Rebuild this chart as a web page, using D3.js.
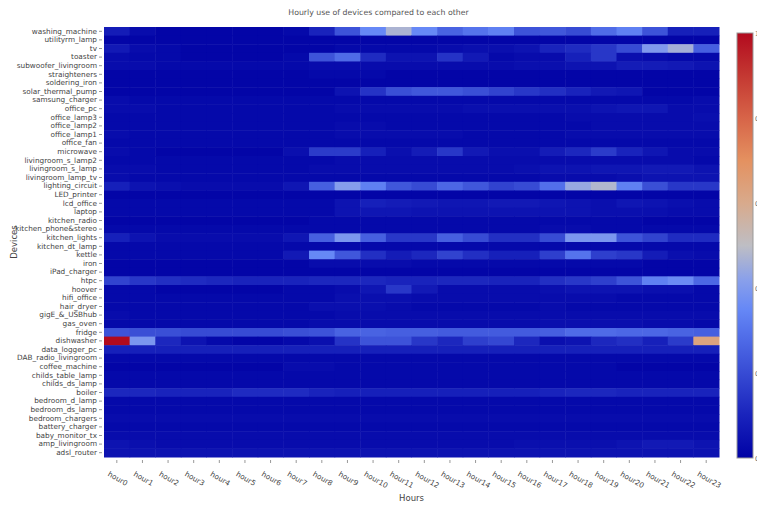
<!DOCTYPE html>
<html>
<head>
<meta charset="utf-8">
<script src="https://cdn.jsdelivr.net/npm/d3@7"></script>
<style>
  body { margin: 0; background: #fff; }
  svg { display: block; font-family: "DejaVu Sans", Verdana, sans-serif; }
</style>
</head>
<body>
<div id="chart"></div>
<script>
const hours = d3.range(24).map(h => "hour" + h);

// top-to-bottom as drawn
const devices = [
  "washing_machine", "utilityrm_lamp", "tv", "toaster", "subwoofer_livingroom", "straighteners",
  "soldering_iron", "solar_thermal_pump", "samsung_charger", "office_pc", "office_lamp3", "office_lamp2",
  "office_lamp1", "office_fan", "microwave", "livingroom_s_lamp2", "livingroom_s_lamp", "livingroom_lamp_tv",
  "lighting_circuit", "LED_printer", "lcd_office", "laptop", "kitchen_radio", "kitchen_phone&stereo",
  "kitchen_lights", "kitchen_dt_lamp", "kettle", "iron", "iPad_charger", "htpc", "hoover", "hifi_office",
  "hair_dryer", "gigE_&_USBhub", "gas_oven", "fridge", "dishwasher", "data_logger_pc", "DAB_radio_livingroom",
  "coffee_machine", "childs_table_lamp", "childs_ds_lamp", "boiler", "bedroom_d_lamp", "bedroom_ds_lamp",
  "bedroom_chargers", "battery_charger", "baby_monitor_tx", "amp_livingroom", "adsl_router"
];

// one row per device, same order, hour0..hour23
const usage = [
  [0.08,0.03,0.01,0.01,0.01,0.01,0.01,0.02,0.10,0.22,0.35,0.47,0.35,0.26,0.30,0.33,0.22,0.23,0.20,0.28,0.33,0.22,0.09,0.09],
  [0.01,0.01,0.01,0.01,0.01,0.01,0.01,0.01,0.01,0.01,0.01,0.01,0.01,0.01,0.01,0.01,0.01,0.01,0.01,0.01,0.01,0.01,0.01,0.01],
  [0.07,0.03,0.02,0.01,0.01,0.01,0.01,0.01,0.01,0.02,0.02,0.02,0.02,0.03,0.04,0.04,0.05,0.10,0.12,0.15,0.20,0.40,0.46,0.25],
  [0.03,0.02,0.02,0.01,0.01,0.01,0.01,0.02,0.22,0.28,0.12,0.05,0.05,0.14,0.07,0.02,0.03,0.03,0.09,0.15,0.04,0.03,0.02,0.02],
  [0.03,0.03,0.02,0.02,0.02,0.02,0.02,0.02,0.03,0.03,0.03,0.03,0.03,0.03,0.03,0.03,0.04,0.04,0.05,0.05,0.08,0.08,0.07,0.05],
  [0.01,0.01,0.01,0.01,0.01,0.01,0.01,0.01,0.02,0.02,0.02,0.01,0.01,0.01,0.01,0.01,0.01,0.01,0.01,0.01,0.01,0.01,0.01,0.01],
  [0.01,0.01,0.01,0.01,0.01,0.01,0.01,0.01,0.01,0.01,0.01,0.01,0.01,0.01,0.01,0.01,0.01,0.01,0.01,0.01,0.01,0.01,0.01,0.01],
  [0.01,0.01,0.01,0.01,0.01,0.01,0.01,0.01,0.01,0.05,0.14,0.21,0.23,0.23,0.21,0.18,0.15,0.13,0.10,0.07,0.06,0.01,0.01,0.01],
  [0.03,0.02,0.02,0.02,0.02,0.02,0.02,0.02,0.02,0.02,0.02,0.02,0.02,0.02,0.02,0.02,0.02,0.02,0.02,0.02,0.02,0.02,0.02,0.03],
  [0.03,0.03,0.02,0.02,0.02,0.02,0.02,0.02,0.02,0.03,0.03,0.03,0.03,0.03,0.04,0.04,0.04,0.04,0.04,0.05,0.06,0.06,0.03,0.03],
  [0.02,0.02,0.02,0.02,0.02,0.02,0.02,0.02,0.02,0.02,0.02,0.02,0.02,0.02,0.02,0.02,0.02,0.02,0.03,0.03,0.03,0.03,0.03,0.04],
  [0.02,0.02,0.02,0.02,0.02,0.02,0.02,0.02,0.02,0.03,0.03,0.02,0.02,0.02,0.02,0.02,0.02,0.02,0.02,0.03,0.03,0.03,0.03,0.03],
  [0.03,0.02,0.02,0.02,0.02,0.02,0.02,0.02,0.02,0.03,0.03,0.03,0.03,0.03,0.02,0.02,0.02,0.02,0.03,0.03,0.03,0.03,0.03,0.03],
  [0.02,0.02,0.02,0.02,0.02,0.02,0.02,0.02,0.02,0.02,0.02,0.02,0.02,0.02,0.02,0.02,0.02,0.02,0.02,0.02,0.02,0.02,0.02,0.02],
  [0.03,0.02,0.01,0.01,0.01,0.01,0.01,0.04,0.16,0.16,0.09,0.04,0.08,0.15,0.07,0.04,0.04,0.08,0.11,0.16,0.10,0.06,0.03,0.03],
  [0.02,0.02,0.02,0.02,0.02,0.02,0.02,0.02,0.02,0.03,0.03,0.03,0.03,0.03,0.03,0.03,0.03,0.03,0.03,0.03,0.03,0.03,0.03,0.02],
  [0.03,0.03,0.02,0.02,0.02,0.02,0.02,0.02,0.03,0.03,0.03,0.03,0.03,0.03,0.03,0.03,0.04,0.05,0.05,0.06,0.06,0.07,0.07,0.05],
  [0.03,0.02,0.02,0.02,0.02,0.02,0.02,0.02,0.02,0.02,0.02,0.02,0.02,0.02,0.02,0.02,0.02,0.03,0.03,0.03,0.04,0.05,0.05,0.05],
  [0.09,0.05,0.04,0.03,0.03,0.03,0.03,0.06,0.25,0.41,0.33,0.23,0.20,0.27,0.23,0.18,0.20,0.29,0.44,0.48,0.33,0.21,0.15,0.15],
  [0.01,0.01,0.01,0.01,0.01,0.01,0.01,0.01,0.01,0.01,0.01,0.01,0.01,0.01,0.01,0.01,0.01,0.01,0.01,0.01,0.01,0.01,0.01,0.01],
  [0.02,0.02,0.02,0.02,0.02,0.02,0.02,0.02,0.02,0.05,0.09,0.08,0.07,0.06,0.06,0.07,0.07,0.06,0.05,0.04,0.06,0.05,0.04,0.03],
  [0.02,0.02,0.02,0.02,0.02,0.02,0.02,0.02,0.02,0.05,0.06,0.06,0.05,0.05,0.05,0.05,0.05,0.05,0.05,0.04,0.04,0.04,0.03,0.03],
  [0.01,0.01,0.01,0.01,0.01,0.01,0.01,0.01,0.02,0.02,0.02,0.02,0.02,0.02,0.02,0.02,0.02,0.02,0.02,0.02,0.02,0.01,0.01,0.01],
  [0.02,0.02,0.02,0.02,0.02,0.02,0.02,0.02,0.02,0.02,0.02,0.02,0.02,0.02,0.02,0.02,0.02,0.03,0.03,0.02,0.02,0.02,0.02,0.02],
  [0.09,0.05,0.03,0.03,0.03,0.03,0.03,0.06,0.25,0.39,0.25,0.15,0.15,0.25,0.20,0.13,0.13,0.20,0.39,0.39,0.22,0.18,0.12,0.12],
  [0.02,0.02,0.02,0.02,0.02,0.02,0.02,0.02,0.02,0.02,0.02,0.02,0.02,0.02,0.02,0.02,0.02,0.02,0.02,0.02,0.02,0.02,0.02,0.02],
  [0.02,0.02,0.02,0.02,0.02,0.02,0.02,0.07,0.35,0.23,0.13,0.08,0.11,0.18,0.13,0.09,0.09,0.17,0.30,0.17,0.15,0.08,0.04,0.03],
  [0.01,0.01,0.01,0.01,0.01,0.01,0.01,0.01,0.03,0.03,0.03,0.03,0.02,0.02,0.02,0.02,0.02,0.02,0.02,0.02,0.02,0.01,0.01,0.01],
  [0.01,0.01,0.01,0.01,0.01,0.01,0.01,0.01,0.01,0.01,0.01,0.01,0.01,0.01,0.01,0.01,0.01,0.01,0.01,0.01,0.01,0.01,0.01,0.01],
  [0.18,0.15,0.13,0.12,0.11,0.10,0.10,0.10,0.11,0.11,0.11,0.10,0.10,0.11,0.11,0.10,0.10,0.13,0.15,0.17,0.22,0.33,0.36,0.27],
  [0.02,0.02,0.01,0.01,0.01,0.01,0.01,0.02,0.02,0.03,0.06,0.15,0.07,0.03,0.03,0.03,0.03,0.04,0.05,0.05,0.05,0.04,0.04,0.02],
  [0.02,0.02,0.02,0.02,0.02,0.02,0.02,0.02,0.02,0.04,0.04,0.04,0.03,0.03,0.03,0.03,0.03,0.03,0.03,0.03,0.02,0.02,0.02,0.02],
  [0.02,0.02,0.02,0.02,0.02,0.02,0.02,0.02,0.04,0.04,0.04,0.03,0.02,0.02,0.02,0.02,0.02,0.03,0.02,0.02,0.02,0.02,0.02,0.02],
  [0.03,0.02,0.02,0.02,0.02,0.02,0.02,0.02,0.02,0.03,0.03,0.03,0.03,0.03,0.03,0.03,0.03,0.03,0.03,0.03,0.03,0.03,0.03,0.03],
  [0.02,0.02,0.02,0.02,0.02,0.02,0.02,0.02,0.03,0.03,0.03,0.03,0.03,0.03,0.03,0.03,0.03,0.04,0.04,0.04,0.04,0.03,0.03,0.02],
  [0.22,0.21,0.21,0.20,0.20,0.20,0.20,0.21,0.22,0.26,0.26,0.25,0.25,0.24,0.24,0.24,0.24,0.25,0.28,0.28,0.27,0.27,0.26,0.25],
  [1.00,0.39,0.11,0.05,0.02,0.01,0.01,0.02,0.04,0.14,0.22,0.22,0.15,0.11,0.17,0.19,0.11,0.04,0.05,0.11,0.13,0.09,0.16,0.63],
  [0.09,0.09,0.09,0.09,0.09,0.09,0.09,0.09,0.09,0.09,0.09,0.09,0.09,0.09,0.09,0.09,0.09,0.09,0.09,0.09,0.09,0.09,0.09,0.09],
  [0.02,0.02,0.02,0.02,0.02,0.02,0.02,0.02,0.02,0.02,0.02,0.02,0.02,0.02,0.02,0.02,0.02,0.02,0.02,0.02,0.02,0.02,0.02,0.02],
  [0.01,0.01,0.01,0.01,0.01,0.01,0.01,0.03,0.03,0.02,0.02,0.02,0.02,0.02,0.02,0.02,0.02,0.02,0.02,0.02,0.01,0.01,0.01,0.01],
  [0.02,0.02,0.02,0.02,0.02,0.02,0.02,0.02,0.02,0.02,0.02,0.02,0.02,0.02,0.02,0.02,0.02,0.02,0.02,0.02,0.02,0.02,0.02,0.02],
  [0.02,0.02,0.02,0.02,0.02,0.02,0.02,0.02,0.02,0.02,0.02,0.02,0.02,0.02,0.02,0.02,0.02,0.02,0.02,0.02,0.02,0.02,0.02,0.02],
  [0.11,0.11,0.10,0.10,0.10,0.12,0.12,0.12,0.10,0.09,0.09,0.09,0.09,0.09,0.09,0.09,0.09,0.10,0.11,0.11,0.10,0.10,0.10,0.10],
  [0.02,0.02,0.02,0.02,0.02,0.02,0.02,0.02,0.02,0.02,0.02,0.02,0.02,0.02,0.02,0.02,0.02,0.02,0.02,0.02,0.02,0.02,0.02,0.02],
  [0.02,0.02,0.02,0.02,0.02,0.02,0.02,0.02,0.02,0.02,0.02,0.02,0.02,0.02,0.02,0.02,0.02,0.02,0.02,0.02,0.02,0.02,0.02,0.02],
  [0.03,0.03,0.03,0.03,0.03,0.03,0.03,0.03,0.03,0.03,0.03,0.03,0.03,0.03,0.03,0.03,0.03,0.03,0.03,0.03,0.03,0.03,0.03,0.03],
  [0.02,0.02,0.02,0.02,0.02,0.02,0.02,0.02,0.02,0.02,0.02,0.02,0.02,0.02,0.02,0.02,0.02,0.02,0.02,0.02,0.02,0.02,0.02,0.02],
  [0.03,0.03,0.03,0.03,0.03,0.03,0.03,0.03,0.03,0.03,0.03,0.03,0.03,0.03,0.03,0.03,0.03,0.03,0.03,0.03,0.03,0.03,0.03,0.03],
  [0.05,0.04,0.03,0.03,0.03,0.03,0.03,0.03,0.03,0.03,0.03,0.03,0.03,0.03,0.03,0.03,0.04,0.04,0.04,0.04,0.05,0.07,0.07,0.05],
  [0.05,0.05,0.05,0.05,0.05,0.05,0.05,0.05,0.05,0.05,0.05,0.05,0.05,0.05,0.05,0.05,0.05,0.05,0.05,0.05,0.05,0.05,0.05,0.05]
];

const colorStops = [0, 0.1, 0.2, 0.3, 0.35, 0.42, 0.5, 0.6, 0.7, 0.8, 0.9, 1];
const colorValues = [
  "rgb(0,2,165)", "rgb(25,35,188)", "rgb(55,75,212)", "rgb(85,115,236)", "rgb(102,136,246)",
  "rgb(138,160,234)", "rgb(190,190,196)", "rgb(216,170,140)", "rgb(228,145,96)", "rgb(215,100,72)",
  "rgb(196,56,50)", "rgb(178,10,30)"
];
const colorTicks = [0, 0.2, 0.4, 0.6, 0.8, 1];

const W = 757, H = 506;
const plot = { left: 104, right: 719, top: 27, bottom: 457 };

const svg = d3.select("#chart").append("svg")
    .attr("width", W).attr("height", H);

const x = d3.scaleBand().domain(hours).range([plot.left, plot.right]);
const y = d3.scaleBand().domain(devices).range([plot.top, plot.bottom]);
const color = d3.scaleLinear().domain(colorStops).range(colorValues)
    .interpolate(d3.interpolateRgb).clamp(true);

// cells
const cells = [];
usage.forEach((row, i) => row.forEach((v, j) => cells.push({ dev: devices[i], hour: hours[j], v })));

svg.append("g").selectAll("rect").data(cells).join("rect")
    .attr("x", d => x(d.hour))
    .attr("y", d => y(d.dev))
    .attr("width", x.bandwidth() + 0.5)
    .attr("height", y.bandwidth() + 0.5)
    .attr("fill", d => color(d.v));

// y axis
const yAxis = svg.append("g")
    .attr("transform", `translate(${plot.left - 2},0)`)
    .call(d3.axisLeft(y).tickSize(3).tickPadding(2));
yAxis.select(".domain").remove();
yAxis.selectAll(".tick line").attr("stroke", "#999");
yAxis.selectAll(".tick text").attr("fill", "#444")
    .style("font-size", "7.3px").style("font-family", "'DejaVu Sans', sans-serif");

// x axis
const xAxis = svg.append("g")
    .attr("transform", `translate(0,${plot.bottom + 3})`)
    .call(d3.axisBottom(x).tickSize(3).tickPadding(5));
xAxis.select(".domain").remove();
xAxis.selectAll(".tick line").attr("stroke", "#999");
xAxis.selectAll(".tick text")
    .attr("fill", "#444")
    .style("font-size", "7.3px").style("font-family", "'DejaVu Sans', sans-serif")
    .attr("text-anchor", "start")
    .attr("dy", "0.4em")
    .attr("transform", "translate(-4,6) rotate(30)");

// titles
svg.append("text").attr("x", W / 2).attr("y", 15).attr("text-anchor", "middle")
    .attr("fill", "#555").style("font-size", "7.8px")
    .text("Hourly use of devices compared to each other");

svg.append("text").attr("x", (plot.left + plot.right) / 2).attr("y", 501).attr("text-anchor", "middle")
    .attr("fill", "#444").style("font-size", "8.5px").text("Hours");

svg.append("text")
    .attr("transform", `translate(17,${(plot.top + plot.bottom) / 2}) rotate(-90)`)
    .attr("text-anchor", "middle").attr("fill", "#444").style("font-size", "8.5px").text("Devices");

// colorbar
const cb = { x: 737, w: 16, top: 33, bottom: 458 };
const defs = svg.append("defs");
const grad = defs.append("linearGradient").attr("id", "cbgrad")
    .attr("x1", 0).attr("y1", 1).attr("x2", 0).attr("y2", 0);
grad.selectAll("stop").data(colorStops).join("stop")
    .attr("offset", d => d)
    .attr("stop-color", (d, i) => colorValues[i]);

svg.append("rect")
    .attr("x", cb.x).attr("y", cb.top).attr("width", cb.w).attr("height", cb.bottom - cb.top)
    .attr("fill", "url(#cbgrad)").attr("stroke", "#999").attr("stroke-width", 1);

const cbScale = d3.scaleLinear().domain([0, 1]).range([cb.bottom, cb.top]);
svg.append("g").selectAll("text").data(colorTicks).join("text")
    .attr("x", cb.x + cb.w + 2)
    .attr("y", d => cbScale(d) + 2.5)
    .attr("fill", "#666").style("font-size", "6.5px")
    .text(d => d3.format("~g")(d));
</script>
</body>
</html>
